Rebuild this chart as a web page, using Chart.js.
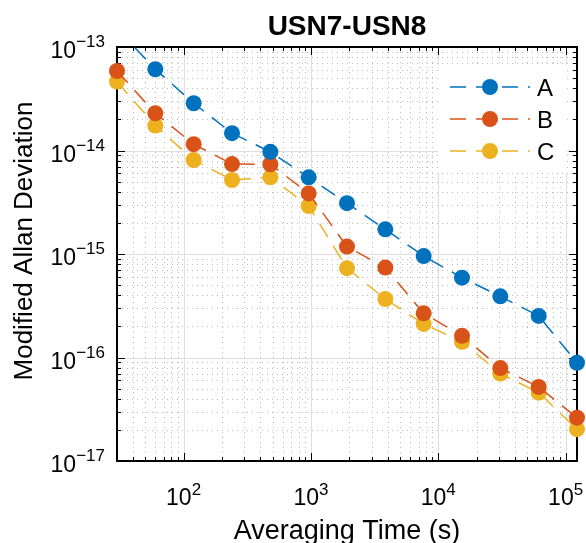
<!DOCTYPE html>
<html>
<head>
<meta charset="utf-8">
<script src="https://cdn.jsdelivr.net/npm/chart.js@4.4.1/dist/chart.umd.min.js"></script>
<style>
  html, body { margin: 0; padding: 0; background: #fff; }
  canvas { display: block; }
</style>
</head>
<body>
<canvas id="adevChart" width="586" height="543"></canvas>
<script>
// averaging times and modified Allan deviation
const tau = [30, 60, 120, 240, 480, 960, 1920, 3840, 7680, 15360, 30720, 61440, 122880];
const devA = [1.5e-13, 6.1e-14, 2.86e-14, 1.47e-14, 9.7e-15, 5.5e-15, 3.1e-15, 1.73e-15, 9.55e-16, 5.9e-16, 3.9e-16, 2.52e-16, 8.9e-17];
const devB = [5.86e-14, 2.29e-14, 1.15e-14, 7.4e-15, 7.36e-15, 3.85e-15, 1.18e-15, 7.4e-16, 2.67e-16, 1.62e-16, 7.9e-17, 5.2e-17, 2.62e-17];
const devC = [4.63e-14, 1.74e-14, 8.1e-15, 5.19e-15, 5.5e-15, 2.91e-15, 7.3e-16, 3.67e-16, 2.11e-16, 1.42e-16, 7.0e-17, 4.57e-17, 2.03e-17];
const seriesNames = ['A', 'B', 'C'];
const seriesColors = ['#0072BD', '#D95319', '#EDB120'];
const xTickExps = [2, 3, 4, 5];
const yTickExps = [-13, -14, -15, -16, -17];

const FONT = '"Liberation Sans", Arial, Helvetica, sans-serif';
const DASH = [16, 10];

function toPoints(vals) {
    return tau.map((t, i) => ({ x: t, y: vals[i] }));
}

// all the 1..9 x 10^n values inside a range
function logSteps(min, max) {
    const out = [];
    for (let e = Math.floor(Math.log10(min)); e <= Math.ceil(Math.log10(max)); e++) {
        for (let m = 1; m <= 9; m++) {
            const v = m * Math.pow(10, e);
            if (v >= min * 0.9999 && v <= max * 1.0001) out.push({ v: v, major: m === 1 });
        }
    }
    return out;
}

// label like 10^3 with a raised exponent
function drawPow(ctx, exp, x, y, align, supRise) {
    const base = '10';
    const sup = String(exp).replace('-', '\u2212');
    ctx.font = '23px ' + FONT;
    const wb = ctx.measureText(base).width;
    ctx.font = '17px ' + FONT;
    const ws = ctx.measureText(sup).width;
    let x0 = align === 'center' ? x - (wb + ws) / 2 : x - (wb + ws);
    ctx.textAlign = 'left';
    ctx.textBaseline = 'alphabetic';
    ctx.font = '23px ' + FONT;
    ctx.fillText(base, x0, y);
    ctx.font = '17px ' + FONT;
    ctx.fillText(sup, x0 + wb, y - supRise);
}

const axesPlugin = {
    id: 'matlabAxes',
    beforeDatasetsDraw(chart) {
        const ctx = chart.ctx;
        const a = chart.chartArea;
        const xs = chart.scales.x, ys = chart.scales.y;
        const xSteps = logSteps(xs.min, xs.max);
        const ySteps = logSteps(ys.min, ys.max);
        ctx.save();
        ctx.lineWidth = 1;
        // minor grid (dotted)
        ctx.strokeStyle = '#bcbcbc';
        ctx.setLineDash([1, 4]);
        xSteps.filter(s => !s.major).forEach(s => {
            const px = Math.round(xs.getPixelForValue(s.v)) + 0.5;
            ctx.beginPath(); ctx.moveTo(px, a.top); ctx.lineTo(px, a.bottom); ctx.stroke();
        });
        ySteps.filter(s => !s.major).forEach(s => {
            const py = Math.round(ys.getPixelForValue(s.v)) + 0.5;
            ctx.beginPath(); ctx.moveTo(a.left, py); ctx.lineTo(a.right, py); ctx.stroke();
        });
        // major grid
        ctx.setLineDash([]);
        ctx.strokeStyle = '#dedede';
        xSteps.filter(s => s.major).forEach(s => {
            const px = Math.round(xs.getPixelForValue(s.v)) + 0.5;
            ctx.beginPath(); ctx.moveTo(px, a.top); ctx.lineTo(px, a.bottom); ctx.stroke();
        });
        ySteps.filter(s => s.major).forEach(s => {
            const py = Math.round(ys.getPixelForValue(s.v)) + 0.5;
            ctx.beginPath(); ctx.moveTo(a.left, py); ctx.lineTo(a.right, py); ctx.stroke();
        });
        // inward ticks on all four sides
        ctx.strokeStyle = '#000';
        xSteps.forEach(s => {
            const px = Math.round(xs.getPixelForValue(s.v)) + 0.5;
            const len = s.major ? 8 : 4;
            ctx.beginPath();
            ctx.moveTo(px, a.bottom); ctx.lineTo(px, a.bottom - len);
            ctx.moveTo(px, a.top); ctx.lineTo(px, a.top + len);
            ctx.stroke();
        });
        ySteps.forEach(s => {
            const py = Math.round(ys.getPixelForValue(s.v)) + 0.5;
            const len = s.major ? 8 : 4;
            ctx.beginPath();
            ctx.moveTo(a.left, py); ctx.lineTo(a.left + len, py);
            ctx.moveTo(a.right, py); ctx.lineTo(a.right - len, py);
            ctx.stroke();
        });
        // box
        ctx.lineWidth = 2;
        ctx.strokeRect(a.left, a.top, a.right - a.left, a.bottom - a.top);

        // tick labels
        ctx.fillStyle = '#000';
        xTickExps.forEach(e => {
            const px = xs.getPixelForValue(Math.pow(10, e));
            drawPow(ctx, e, px, a.bottom + 44, 'center', 10);
        });
        yTickExps.forEach(e => {
            const py = ys.getPixelForValue(Math.pow(10, e));
            drawPow(ctx, e, a.left - 12, py + 11, 'right', 11);
        });

        // title and axis labels
        ctx.textAlign = 'center';
        ctx.textBaseline = 'alphabetic';
        ctx.font = 'bold 28px ' + FONT;
        ctx.fillText('USN7-USN8', (a.left + a.right) / 2, 35);
        ctx.font = '27px ' + FONT;
        ctx.fillText('Averaging Time (s)', (a.left + a.right) / 2, 539);
        ctx.save();
        ctx.translate(32, (a.top + a.bottom) / 2 - 13);
        ctx.rotate(-Math.PI / 2);
        ctx.font = '26px ' + FONT;
        ctx.fillText('Modified Allan Deviation', 0, 0);
        ctx.restore();
        ctx.restore();
    },
    afterDatasetsDraw(chart) {
        // legend box inside the axes, top right
        const ctx = chart.ctx;
        ctx.save();
        ctx.fillStyle = '#fff';
        ctx.fillRect(438, 65, 129, 108);
        chart.data.datasets.forEach((ds, i) => {
            const cy = 87 + i * 32;
            ctx.strokeStyle = ds.borderColor;
            ctx.lineWidth = 1.5;
            ctx.setLineDash(DASH);
            ctx.beginPath(); ctx.moveTo(450, cy); ctx.lineTo(530, cy); ctx.stroke();
            ctx.setLineDash([]);
            ctx.fillStyle = ds.backgroundColor;
            ctx.beginPath(); ctx.arc(490, cy, 8, 0, Math.PI * 2); ctx.fill();
            ctx.fillStyle = '#000';
            ctx.font = '24px ' + FONT;
            ctx.textAlign = 'left';
            ctx.textBaseline = 'alphabetic';
            ctx.fillText(ds.label, 537, cy + 8.5);
        });
        ctx.restore();
    }
};

const allSeries = [devA, devB, devC];
const datasets = allSeries.map((vals, i) => ({
    label: seriesNames[i],
    data: toPoints(vals),
    borderColor: seriesColors[i],
    backgroundColor: seriesColors[i],
    borderWidth: 1.5,
    borderDash: DASH,
    pointRadius: 8,
    pointBorderWidth: 0,
    pointHoverRadius: 8,
    tension: 0,
    clip: { left: 12, top: 0, right: 12, bottom: 12 }
}));

new Chart(document.getElementById('adevChart').getContext('2d'), {
    type: 'line',
    data: { datasets: datasets },
    options: {
        responsive: false,
        animation: false,
        devicePixelRatio: 1,
        layout: { padding: { left: 117, right: 9, top: 47, bottom: 82 } },
        plugins: {
            legend: { display: false },
            title: { display: false },
            tooltip: { enabled: false }
        },
        scales: {
            x: { type: 'logarithmic', min: 30, max: 122880, display: false },
            y: { type: 'logarithmic', min: 1e-17, max: 1e-13, display: false }
        }
    },
    plugins: [axesPlugin]
});
</script>
</body>
</html>
